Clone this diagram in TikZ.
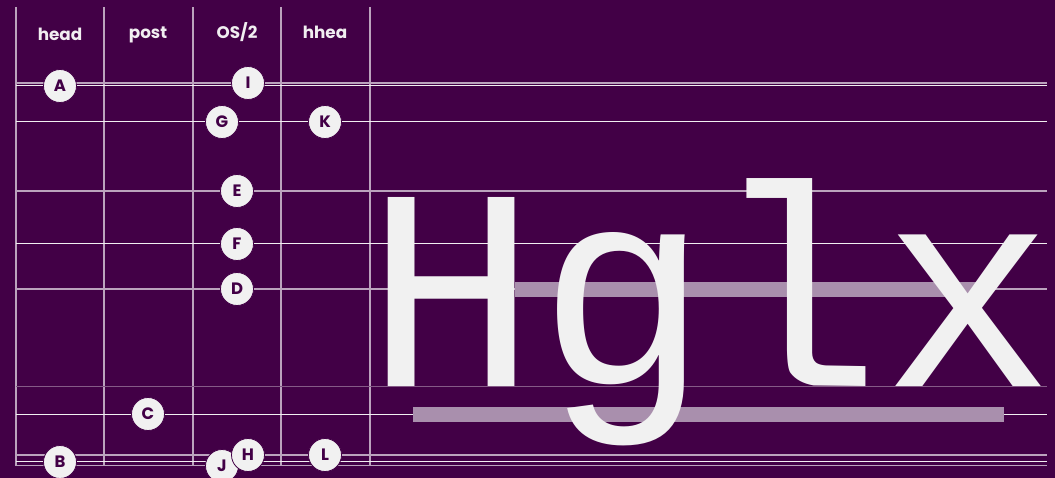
\documentclass[tikz,border=0pt]{standalone}
\usepackage{fontspec}
\usepackage{tikz}
\usepackage{xcolor}
\setsansfont{Poppins}
\newfontfamily\glyphfont{Liberation Mono}

\definecolor{bgpurple}{HTML}{420046}
\definecolor{guidelav}{HTML}{BBA3BD}
\definecolor{guidewhite}{HTML}{F1EEF1}
\definecolor{barlav}{HTML}{A98FAD}
\definecolor{markwhite}{HTML}{F1F1F1}

\tikzset{
  guide/.style={draw=guidelav, line width=1.4pt},
  guidethin/.style={draw=guidewhite, line width=1pt},
  guidefaint/.style={draw=guidelav!55!bgpurple, line width=1pt},
  tablecol/.style={draw=guidelav, line width=1.3pt},
  tablabel/.style={text=guidewhite, inner sep=0pt, font=\sffamily\bfseries\fontsize{16.8}{16.8}\selectfont},
  marker/.style={circle, fill=markwhite, draw=bgpurple, line width=0.8pt, minimum size=33pt, inner sep=0pt,
    text=bgpurple, font=\sffamily\bfseries\fontsize{16.5}{16.5}\selectfont},
  metricbar/.style={fill=barlav},
  glyphs/.style={text=markwhite, inner sep=0pt, font=\glyphfont\fontsize{287}{287}\selectfont}
}

\begin{document}
\begin{tikzpicture}[x=1pt,y=-1pt]
\useasboundingbox (0,0) rectangle (1055,478);
\fill[bgpurple] (0,0) rectangle (1055,478);

% table columns
\draw[tablecol] (16,7) -- (16,466);
\draw[tablecol] (104,7) -- (104,466);
\draw[tablecol] (193,7) -- (193,466);
\draw[tablecol] (281,7) -- (281,466);
\draw[tablecol] (370,7) -- (370,466);

% metric lines
\draw[guide] (16,83) -- (1047,83);
\draw[guidethin] (16,85.5) -- (1047,85.5);
\draw[guidethin] (16,122) -- (1047,122);
\draw[guide] (16,191) -- (1047,191);
\draw[guidethin] (16,244) -- (1047,244);
\draw[guide] (16,289) -- (1047,289);
\draw[guidefaint] (16,386) -- (1047,386);
\draw[guidethin] (16,414) -- (1047,414);
\draw[guide] (16,455) -- (1047,455);
\draw[guidethin] (16,461.5) -- (1047,461.5);
\draw[guide] (16,465.5) -- (1047,465.5);

% bars
\fill[metricbar] (515,282) rectangle (985,297);
\fill[metricbar] (413,407) rectangle (1004,421.5);

% sample text
\node[glyphs, anchor=base] (sample) at (710,386) {Hglx};

% Labels
\node[tablabel] (head) at (60,34) {head};
\node[tablabel] (post) at (148,35) {post};
\node[tablabel] (os2) at (237,32) {OS/2};
\node[tablabel] (hhea) at (325,32) {hhea};

% markers
\node[marker] (mA) at (60,86) {A};
\node[marker] (mI) at (248,83) {I};
\node[marker] (mG) at (222,122) {G};
\node[marker] (mK) at (325,122) {K};
\node[marker] (mE) at (237,191) {E};
\node[marker] (mF) at (237,244) {F};
\node[marker] (mD) at (237,289) {D};
\node[marker] (mC) at (148,414) {C};
\node[marker] (mB) at (60,462) {B};
\node[marker] (mJ) at (222,466) {J};
\node[marker] (mH) at (248,455) {H};
\node[marker] (mL) at (325,455) {L};
\end{tikzpicture}
\end{document}
